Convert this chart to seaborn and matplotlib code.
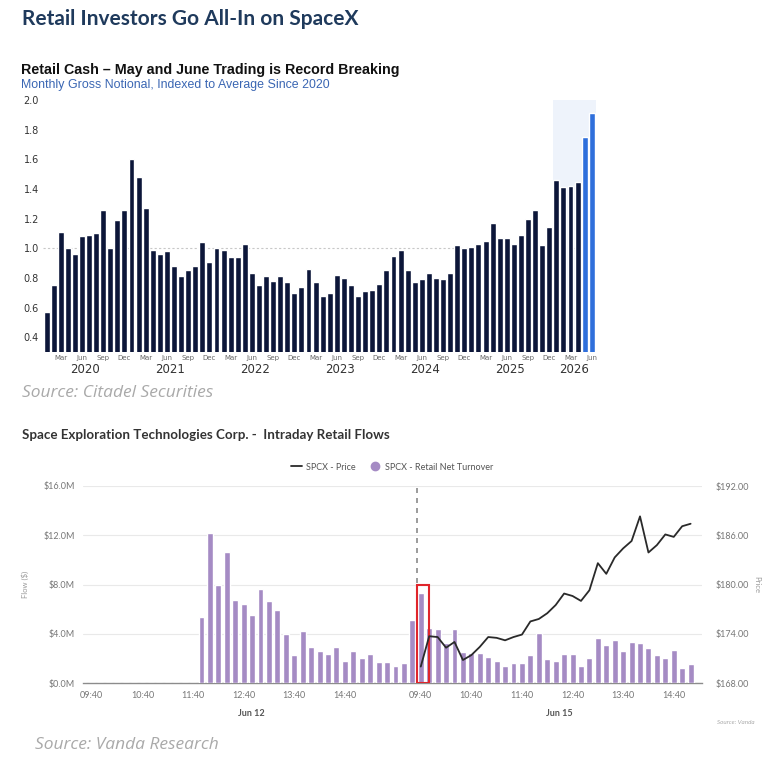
import numpy as np
import pandas as pd
import matplotlib
matplotlib.use("Agg")
import matplotlib.pyplot as plt
import seaborn as sns
from matplotlib.lines import Line2D
from matplotlib.patches import Rectangle

# ---- top chart data: monthly gross notional, indexed to average since 2020
months = pd.period_range("2020-01", "2026-06", freq="M")
cash_index = [
    0.57, 0.75, 1.11, 1.00, 0.96, 1.08, 1.09, 1.10, 1.26, 1.00, 1.19, 1.26,  # 2020
    1.60, 1.48, 1.27, 0.99, 0.96, 0.98, 0.88, 0.81, 0.85, 0.88, 1.04, 0.91,  # 2021
    1.00, 0.99, 0.94, 0.94, 1.03, 0.83, 0.75, 0.81, 0.78, 0.81, 0.77, 0.70,  # 2022
    0.74, 0.86, 0.77, 0.68, 0.70, 0.82, 0.80, 0.75, 0.68, 0.71, 0.72, 0.76,  # 2023
    0.85, 0.95, 0.99, 0.85, 0.77, 0.79, 0.83, 0.80, 0.79, 0.83, 1.02, 1.00,  # 2024
    1.01, 1.03, 1.05, 1.17, 1.07, 1.07, 1.03, 1.09, 1.20, 1.26, 1.02, 1.14,  # 2025
    1.46, 1.41, 1.42, 1.45, 1.75, 1.91,                                      # 2026
]
highlight_months = ["2026-05", "2026-06"]
shade_from = "2026-01"
month_ticks = ["Mar", "Jun", "Sep", "Dec"]

# ---- bottom chart data: 10-minute retail flows ($M) and price
jun12_times = pd.date_range("09:30", "15:50", freq="10min").strftime("%H:%M")
jun15_times = pd.date_range("09:30", "15:00", freq="10min").strftime("%H:%M")
jun12_flow = [0.0] * 14 + [
    5.35, 12.16, 7.92, 10.6, 6.76, 6.38, 5.54, 7.65, 6.68, 5.92, 3.95, 2.27, 4.19,
    2.89, 2.57, 2.38, 2.89, 1.76, 2.59, 2.03, 2.32, 1.68, 1.68, 1.41, 1.65,
]
jun15_flow = [
    5.08, 7.27, 4.43, 4.40, 3.27, 4.35, 2.49, 2.46, 2.41, 2.14, 1.81, 1.38,
    1.65, 1.65, 2.24, 4.03, 1.92, 1.76, 2.35, 2.35, 1.38, 2.03, 3.68, 3.05,
    3.49, 2.57, 3.32, 3.22, 2.81, 2.30, 2.03, 2.70, 1.19, 1.51,
]
# price starts at 09:40 on Jun 15
jun15_price = [
    170.0, 173.7, 173.6, 172.3, 173.0, 170.8, 171.4, 172.4, 173.6, 173.5, 173.2,
    173.6, 173.9, 175.5, 175.8, 176.5, 177.5, 178.9, 178.6, 178.0, 179.3, 182.6,
    181.3, 183.3, 184.4, 185.3, 188.3, 183.9, 184.8, 186.1, 185.8, 187.1, 187.4,
]
hour_labels = ["09:40", "10:40", "11:40", "12:40", "13:40", "14:40"]
flow_ticks = [0, 4, 8, 12, 16]
price_ticks = [168, 174, 180, 186, 192]

NAVY = "#0c1639"
BLUE = "#2f6fdb"
PURPLE = "#a58bc4"
LATO = ["Lato", "DejaVu Sans"]

sns.set_style("white")
plt.rcParams["font.family"] = ["Liberation Sans", "DejaVu Sans"]

fig = plt.figure(figsize=(7.74, 7.72), dpi=100)

fig.text(22 / 774, 1 - 19 / 772, "Retail Investors Go All-In on SpaceX", fontsize=15,
         fontweight="bold", color="#1f3a5c", va="center", family=LATO)

# ================= top chart =================
ax1 = fig.add_axes([43 / 774, 1 - 352 / 772, 553 / 774, 252 / 772])
top = pd.DataFrame({
    "month": months.strftime("%Y-%m"),
    "value": cash_index,
})
top["group"] = np.where(top["month"].isin(highlight_months), "hi", "base")
sns.barplot(data=top, x="month", y="value", hue="group", palette={"base": NAVY, "hi": BLUE},
            dodge=False, width=0.84, legend=False, saturation=1, ax=ax1, zorder=3)
n = len(top)
start = top.index[top["month"] == shade_from][0]
ax1.axvspan(start - 0.5, n - 0.4, color="#eef3fb", zorder=0, lw=0)
ax1.axhline(1.0, color="#c8c8c8", lw=0.8, ls=(0, (2, 2)), zorder=1)
ax1.set_xlim(-0.5, n - 0.4)
ax1.set_ylim(0.3, 2.0)
yt = np.arange(0.4, 2.01, 0.2)
ax1.set_yticks(yt)
ax1.set_yticklabels([f"{v:.1f}" for v in yt], fontsize=7, color="#333333",
                    family="DejaVu Sans")
tick_pos = [i for i, m in enumerate(months) if m.strftime("%b") in month_ticks]
ax1.set_xticks(tick_pos)
ax1.set_xticklabels([months[i].strftime("%b") for i in tick_pos], fontsize=5,
                    color="#666666", family="DejaVu Sans")
ax1.tick_params(length=0, pad=2)
ax1.tick_params(axis="y", pad=3)
for s in ax1.spines.values():
    s.set_visible(False)
ax1.set_xlabel("")
ax1.set_ylabel("")
for yr in sorted(set(months.year)):
    idx = [i for i, m in enumerate(months) if m.year == yr]
    ax1.text(np.mean(idx), -0.068, str(yr), transform=ax1.get_xaxis_transform(),
             ha="center", va="center", fontsize=8.5, color="#333333", family="DejaVu Sans")

fig.text(21 / 774, 1 - 70 / 772, "Retail Cash \u2013 May and June Trading is Record Breaking",
         fontsize=10.3, fontweight="bold", color="#111111", va="center")
fig.text(21 / 774, 1 - 85 / 772, "Monthly Gross Notional, Indexed to Average Since 2020",
         fontsize=8.9, color="#3a66b3", va="center")
fig.text(22 / 774, 1 - 393 / 772, "Source: Citadel Securities", fontsize=12.5, style="italic",
         color="#a9a9a9", va="center", family=["Open Sans", "DejaVu Sans"])

# ================= bottom chart =================
slots = [f"Jun 12 {t}" for t in jun12_times] + [f"Jun 15 {t}" for t in jun15_times]
flows = pd.DataFrame({"slot": slots, "flow": jun12_flow + jun15_flow})
n12 = len(jun12_times)

ax2 = fig.add_axes([83 / 774, 1 - 683 / 772, 619 / 774, 197 / 772])
sns.barplot(data=flows, x="slot", y="flow", color=PURPLE, width=0.7, ax=ax2,
            saturation=1, zorder=3)
ax2.set_ylim(0, 16)
ax2.set_xlim(-0.05, len(slots) + 0.35)
ax2.set_yticks(flow_ticks)
ax2.set_yticklabels([f"${v:.1f}M" for v in flow_ticks])
ax2.yaxis.grid(True, color="#e9e9e9", lw=0.8, zorder=0)
ax2.set_axisbelow(True)
tick_idx = [i for i, s in enumerate(slots) if s[-5:] in hour_labels]
ax2.set_xticks(tick_idx)
ax2.set_xticklabels([slots[i][-5:] for i in tick_idx])
ax2.tick_params(length=0, labelsize=6.5, labelcolor="#777777", pad=6)
for lbl in ax2.get_xticklabels() + ax2.get_yticklabels():
    lbl.set_family(LATO)
for k, s in ax2.spines.items():
    s.set_visible(k == "bottom")
ax2.spines["bottom"].set_color("#8c8c8c")
ax2.spines["bottom"].set_linewidth(1.0)
ax2.set_xlabel("")
ax2.set_ylabel("Flow ($)", fontsize=5.5, color="#999999", labelpad=10, family=LATO)

for day, idx in [("Jun 12", range(0, n12)), ("Jun 15", range(n12, len(slots)))]:
    ax2.text(np.mean(list(idx)) + 0.9, -0.155, day, transform=ax2.get_xaxis_transform(),
             ha="center", va="center", fontsize=6.5, fontweight="bold", color="#555555",
             family=LATO)

# session break and highlighted opening bar
ax2.axvline(n12 + 0.5, color="#8a8a8a", lw=1.2, ls=(0, (3, 3)), zorder=4)
open_bar = slots.index("Jun 15 09:40")
ax2.add_patch(Rectangle((open_bar - 0.4, 0), 1.4, 8.0, fill=False, edgecolor="#e0252b",
                        lw=1.5, zorder=5))

ax3 = ax2.twinx()
price_x = np.arange(open_bar, open_bar + len(jun15_price))
sns.lineplot(x=price_x, y=jun15_price, color="#2a2a2a", lw=1.3, ax=ax3, zorder=6)
ax3.set_ylim(168, 192)
ax3.set_yticks(price_ticks)
ax3.set_yticklabels([f"${v:.2f}" for v in price_ticks])
ax3.tick_params(length=0, labelsize=6.5, labelcolor="#777777", pad=10)
for lbl in ax3.get_yticklabels():
    lbl.set_family(LATO)
for s in ax3.spines.values():
    s.set_visible(False)
ax3.set_ylabel("Price", rotation=270, fontsize=5.5, color="#999999", labelpad=8, family=LATO)

handles = [
    Line2D([], [], color="#2a2a2a", lw=1.3),
    Line2D([], [], color=PURPLE, marker="o", ls="", markersize=6),
]
fig.legend(handles, ["SPCX - Price", "SPCX - Retail Net Turnover"], loc="center",
           bbox_to_anchor=(392 / 774, 1 - 467 / 772), ncol=2, frameon=False,
           prop={"family": LATO, "size": 6.5}, labelcolor="#555555",
           handlelength=1.2, handletextpad=0.5, columnspacing=1.5)

fig.text(22 / 774, 1 - 435 / 772,
         "Space Exploration Technologies Corp. -  Intraday Retail Flows", fontsize=9.6,
         fontweight="bold", color="#333333", va="center", family=LATO)
fig.text(755 / 774, 1 - 723 / 772, "Source: Vanda", fontsize=4.5, style="italic",
         color="#aaaaaa", va="center", ha="right", family=LATO)
fig.text(35 / 774, 1 - 745 / 772, "Source: Vanda Research", fontsize=12.5, style="italic",
         color="#a9a9a9", va="center", family=["Open Sans", "DejaVu Sans"])

fig.savefig("out.png", dpi=100)
